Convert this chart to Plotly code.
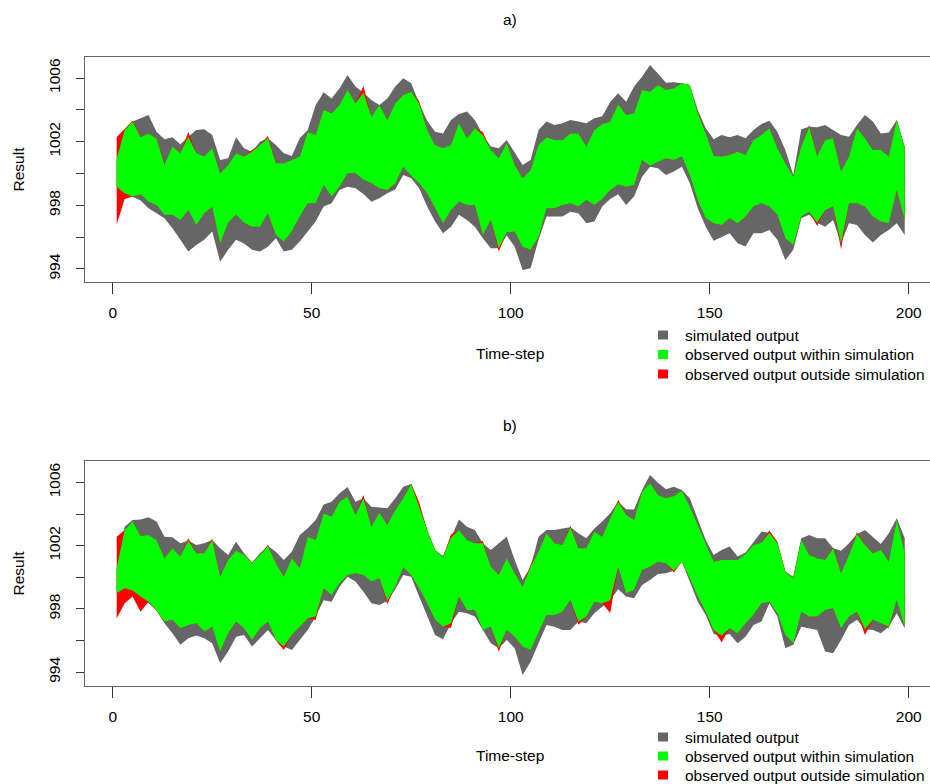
import numpy as np
import plotly.graph_objects as go

# ---------------- data (time steps 1..199, every 2nd step) ----------------
t = list(range(1, 200, 2))

# panel a)
sim_hi_a = [1000.9, 1002.73, 1003.26, 1003.47, 1003.68, 1002.63, 1002.15, 1002.27, 1001.83, 1002.31,
            1002.73, 1002.78, 1002.42, 1000.85, 1000.95, 1002.27, 1001.58, 1001.37, 1002.0, 1002.21,
            1001.79, 1001.27, 1001.1, 1002.21, 1002.73, 1004.3, 1005.1, 1004.72, 1005.35, 1006.19,
            1005.46, 1005.08, 1004.62, 1004.3, 1004.72, 1005.46, 1005.98, 1005.67, 1004.41, 1003.32,
            1002.63, 1002.52, 1003.36, 1003.74, 1003.89, 1003.36, 1002.42, 1001.69, 1001.58, 1002.1,
            1001.27, 1000.53, 1000.85, 1002.73, 1003.26, 1003.05, 1003.15, 1003.36, 1003.26, 1003.15,
            1003.47, 1003.6, 1004.5, 1005.04, 1004.51, 1005.46, 1006.08, 1006.82, 1006.29, 1005.71,
            1005.73, 1005.67, 1005.56, 1003.99, 1002.84, 1002.15, 1002.42, 1002.27, 1002.42, 1002.21,
            1002.73, 1003.11, 1003.32, 1002.63, 1001.48, 999.91, 1002.78, 1002.94, 1002.9, 1003.05,
            1002.73, 1002.42, 1002.31, 1003.05, 1003.68, 1003.26, 1002.52, 1002.57, 1003.36, 1001.69]
sim_lo_a = [999.17, 998.76, 998.55, 998.3, 997.81, 997.5, 997.19, 996.56, 995.83, 995.1,
            995.5, 995.83, 996.35, 994.46, 995.2, 995.83, 995.6, 995.2, 995.1, 995.4,
            995.93, 995.1, 995.2, 995.72, 996.35, 996.98, 997.92, 998.13, 998.97, 999.17,
            999.07, 998.71, 998.23, 998.44, 998.76, 999.0, 999.9, 999.7, 999.07, 997.92,
            996.98, 996.24, 996.66, 997.4, 997.08, 996.66, 995.93, 995.3, 995.3, 996.1,
            995.4, 993.94, 994.04, 995.83, 997.29, 997.29, 997.29, 997.6, 997.5, 996.87,
            996.98, 997.92, 998.4, 998.7, 998.02, 998.55, 999.8, 1000.43, 1000.33, 999.91,
            1000.12, 1000.43, 999.38, 997.81, 996.66, 995.78, 996.03, 996.24, 995.62, 995.41,
            996.24, 996.24, 996.45, 995.83, 994.57, 995.2, 997.19, 997.4, 996.9, 996.66,
            997.08, 995.62, 996.87, 996.77, 996.14, 995.66, 996.14, 996.45, 996.87, 996.14]
obs_hi_a = [1002.3, 1002.8, 1003.32, 1002.27, 1002.52, 1002.2, 1000.53, 1001.69, 1001.27, 1002.6,
            1001.27, 1001.06, 1001.58, 1000.0, 1000.53, 1001.27, 1001.06, 1001.48, 1001.79, 1002.35,
            1000.64, 1000.64, 1000.85, 1001.06, 1002.6, 1002.42, 1003.99, 1003.78, 1004.3, 1005.25,
            1004.41, 1005.5, 1003.57, 1004.3, 1003.36, 1004.41, 1004.93, 1005.14, 1004.55, 1002.73,
            1001.79, 1001.58, 1001.79, 1003.15, 1002.21, 1002.84, 1002.6, 1001.48, 1000.95, 1001.9,
            1000.53, 999.7, 1000.22, 1001.79, 1002.27, 1002.1, 1002.1, 1002.52, 1002.52, 1001.69,
            1002.73, 1003.1, 1003.26, 1004.35, 1003.68, 1003.78, 1005.25, 1005.14, 1005.56, 1005.25,
            1005.35, 1005.67, 1005.56, 1003.78, 1002.52, 1001.1, 1001.06, 1001.16, 1001.37, 1001.16,
            1002.1, 1002.42, 1002.84, 1001.58, 1000.64, 999.8, 1001.69, 1003.05, 1001.06, 1002.1,
            1002.21, 1000.12, 1001.06, 1002.84, 1002.21, 1001.48, 1001.48, 1001.06, 1003.36, 1001.58]
obs_lo_a = [996.8, 998.4, 998.55, 998.7, 998.23, 998.02, 997.4, 997.4, 997.08, 997.7,
            996.77, 997.5, 997.9, 995.6, 996.9, 997.4, 996.9, 996.66, 996.66, 997.5,
            996.14, 995.72, 996.35, 997.29, 998.13, 998.13, 999.28, 998.55, 999.17, 1000.01,
            1000.01, 999.6, 999.38, 999.07, 998.97, 999.38, 1000.43, 999.85, 999.38, 998.76,
            997.81, 996.87, 997.71, 998.23, 998.02, 998.02, 996.14, 997.08, 995.1, 996.3,
            996.35, 995.4, 995.2, 996.03, 997.81, 997.81, 998.02, 998.13, 997.92, 998.34,
            998.02, 998.4, 998.97, 999.3, 999.17, 999.28, 1000.85, 1000.5, 1000.74, 1000.95,
            1000.85, 1001.06, 999.91, 998.34, 997.19, 996.87, 996.77, 997.19, 996.87, 997.29,
            997.92, 998.13, 997.92, 997.4, 995.93, 995.51, 997.29, 997.6, 996.7, 997.71,
            997.92, 995.24, 998.13, 998.13, 997.92, 997.29, 996.98, 996.87, 998.97, 997.08]

# panel b)
sim_hi_b = [1000.57, 1003.2, 1003.62, 1003.66, 1003.79, 1003.52, 1002.57, 1002.53, 1002.15, 1002.32,
            1002.04, 1002.15, 1002.36, 1001.83, 1001.41, 1002.25, 1001.52, 1000.93, 1001.52, 1001.98,
            1001.62, 1001.09, 1001.62, 1002.67, 1003.1, 1003.62, 1004.6, 1004.78, 1005.31, 1005.7,
            1004.78, 1004.99, 1004.46, 1004.42, 1004.36, 1004.99, 1005.73, 1005.89, 1004.46, 1002.99,
            1001.73, 1001.35, 1002.5, 1003.66, 1003.2, 1002.99, 1002.15, 1001.73, 1002.15, 1002.57,
            1001.09, 999.83, 1000.67, 1002.57, 1002.99, 1002.99, 1003.09, 1003.16, 1002.78, 1002.46,
            1003.09, 1003.52, 1004.04, 1004.78, 1004.3, 1004.29, 1005.52, 1006.46, 1005.98, 1005.56,
            1005.73, 1005.52, 1004.99, 1003.73, 1002.36, 1001.41, 1001.73, 1001.94, 1001.31, 1001.56,
            1002.25, 1002.88, 1002.82, 1002.15, 1000.36, 1000.04, 1002.46, 1002.67, 1002.46, 1002.46,
            1001.83, 1001.68, 1002.15, 1002.73, 1002.99, 1002.57, 1002.11, 1002.78, 1003.73, 1002.46]
sim_lo_b = [998.99, 999.31, 999.16, 998.78, 998.36, 997.9, 997.1, 996.46, 995.73, 996.15,
            996.32, 996.15, 995.83, 994.57, 995.31, 996.25, 996.36, 995.62, 996.15, 996.67,
            996.04, 995.62, 995.41, 996.04, 996.67, 997.52, 998.55, 998.46, 999.41, 1000.04,
            999.73, 999.09, 998.36, 998.25, 998.5, 999.24, 1000.15, 1000.04, 998.78, 997.52,
            996.36, 996.08, 997.1, 997.83, 997.73, 997.52, 996.67, 995.83, 995.52, 996.04,
            995.52, 993.83, 994.67, 995.83, 996.99, 996.88, 996.67, 996.67, 997.2, 997.1,
            997.73, 998.15, 998.55, 999.24, 998.78, 998.67, 999.52, 999.83, 1000.21, 1000.25,
            1000.42, 1000.99, 999.73, 998.46, 997.62, 996.42, 996.3, 996.42, 995.83, 996.25,
            996.99, 997.2, 998.36, 997.52, 995.52, 995.73, 996.88, 996.78, 996.67, 995.31,
            995.2, 996.04, 996.99, 997.31, 996.72, 996.67, 996.46, 996.88, 997.73, 996.78]
obs_hi_b = [1002.57, 1002.99, 1003.52, 1002.61, 1002.67, 1002.36, 1001.2, 1001.83, 1001.31, 1002.46,
            1001.52, 1001.52, 1002.45, 1000.04, 1001.09, 1001.68, 1001.41, 1000.88, 1001.41, 1002.05,
            1000.88, 1000.04, 1001.2, 1000.57, 1002.57, 1002.36, 1004.04, 1003.83, 1004.78, 1005.1,
            1003.94, 1005.2, 1003.2, 1004.08, 1003.31, 1004.25, 1004.99, 1005.95, 1004.75, 1002.99,
            1001.73, 1001.26, 1002.7, 1002.99, 1002.36, 1002.15, 1002.3, 1000.67, 1000.15, 1001.2,
            1000.25, 999.41, 1000.8, 1001.62, 1002.78, 1002.15, 1002.04, 1003.25, 1001.83, 1001.83,
            1002.88, 1002.57, 1003.73, 1004.9, 1003.94, 1003.62, 1005.41, 1005.94, 1005.2, 1004.99,
            1005.14, 1005.47, 1004.46, 1003.31, 1002.15, 1000.99, 1001.09, 1001.09, 1001.09, 1001.47,
            1002.04, 1002.19, 1002.95, 1002.25, 1000.36, 999.94, 1002.36, 1001.41, 1001.2, 1001.09,
            1001.9, 1000.25, 1001.41, 1002.85, 1002.04, 1001.52, 1001.73, 1000.99, 1003.62, 1001.52]
obs_lo_b = [997.4, 998.36, 998.78, 997.83, 998.46, 997.94, 997.2, 997.31, 996.78, 996.99,
            997.1, 996.57, 996.88, 995.3, 996.46, 997.2, 996.78, 996.04, 996.78, 997.2,
            996.0, 995.4, 996.36, 996.88, 997.41, 997.3, 999.3, 998.88, 999.62, 1000.15,
            1000.25, 1000.15, 999.73, 999.94, 998.3, 999.41, 1000.63, 1000.15, 999.31, 998.36,
            997.31, 996.88, 996.8, 998.78, 997.94, 997.94, 996.67, 996.88, 995.3, 996.67,
            996.25, 995.62, 995.41, 996.46, 997.62, 997.62, 997.83, 998.57, 997.0, 997.52,
            998.46, 998.36, 997.75, 1000.67, 998.99, 999.2, 1000.46, 1000.67, 1000.99, 1000.88,
            1000.3, 1000.99, 999.94, 998.78, 997.83, 996.67, 995.9, 996.78, 996.46, 997.1,
            997.62, 998.36, 998.46, 997.73, 996.36, 995.83, 997.83, 997.52, 997.52, 997.94,
            998.04, 996.78, 997.52, 997.83, 996.35, 997.31, 997.1, 996.8, 998.57, 996.88]

x_ticks = [0, 50, 100, 150, 200]
y_ticks = [994, 996, 998, 1000, 1002, 1004, 1006]
y_ticktext = ["994", "", "998", "", "1002", "", "1006"]
panel_titles = ["a)", "b)"]
legend_names = ["simulated output", "observed output within simulation",
                "observed output outside simulation"]

GRAY = "#666666"
GREEN = "#00FF00"
RED = "#FF0000"
FONT = "Liberation Sans, Arial, sans-serif"
FS = 15.5
W, H = 930, 784

fig = go.Figure()


def add_panel(xa, ya, shi, slo, ohi, olo):
    shi = np.array(shi); slo = np.array(slo)
    ohi = np.array(ohi); olo = np.array(olo)
    xp = t + t[::-1]
    fig.add_trace(go.Scatter(x=xp, y=list(shi) + list(slo[::-1]), fill="toself",
                             fillcolor=GRAY, mode="lines", line=dict(width=0, color=GRAY),
                             xaxis=xa, yaxis=ya, hoverinfo="skip", name=legend_names[0]))
    fig.add_trace(go.Scatter(x=xp, y=list(ohi) + list(olo[::-1]), fill="toself",
                             fillcolor=RED, mode="lines", line=dict(width=0, color=RED),
                             xaxis=xa, yaxis=ya, hoverinfo="skip", name=legend_names[2]))
    ghi = np.clip(ohi, slo, shi)
    glo = np.clip(olo, slo, shi)
    fig.add_trace(go.Scatter(x=xp, y=list(ghi) + list(glo[::-1]), fill="toself",
                             fillcolor=GREEN, mode="lines", line=dict(width=0, color=GREEN),
                             xaxis=xa, yaxis=ya, hoverinfo="skip", name=legend_names[1]))


add_panel("x", "y", sim_hi_a, sim_lo_a, obs_hi_a, obs_lo_a)
add_panel("x2", "y2", sim_hi_b, sim_lo_b, obs_hi_b, obs_lo_b)

xdom = [85.2 / W, 1.0]
xrange_ = [-6.91, 205.35]

xaxis_common = dict(domain=xdom, range=xrange_, tickvals=x_ticks, ticks="outside", ticklen=11,
                    tickcolor="#333333", tickwidth=1, showline=True, linecolor="#666666",
                    linewidth=1, mirror=True, showgrid=False, zeroline=False, automargin=False,
                    tickfont=dict(family=FONT, size=FS, color="black"), ticklabelstandoff=5)
yaxis_common = dict(tickvals=y_ticks, ticktext=y_ticktext, ticks="outside", ticklen=8,
                    tickcolor="#333333", tickwidth=1, showline=True, linecolor="#666666",
                    linewidth=1, mirror=False, showgrid=False, zeroline=False, tickangle=-90,
                    automargin=False,
                    tickfont=dict(family=FONT, size=FS, color="black"), ticklabelstandoff=10)

fig.update_layout(
    width=W, height=H, margin=dict(l=0, r=0, t=0, b=0, autoexpand=False),
    paper_bgcolor="white", plot_bgcolor="white",
    font=dict(family=FONT, size=FS, color="black"),
    showlegend=False,
    xaxis=dict(xaxis_common, anchor="y"),
    yaxis=dict(yaxis_common, domain=[1 - 282 / H, 1 - 56.7 / H], range=[993.18, 1007.34], anchor="x"),
    xaxis2=dict(xaxis_common, anchor="y2"),
    yaxis2=dict(yaxis_common, domain=[1 - 686 / H, 1 - 461 / H], range=[993.13, 1007.35], anchor="x2"),
)

ann = []
shapes = []
for title, yc in zip(panel_titles, [20, 425]):
    ann.append(dict(text=title, x=510 / W, y=1 - yc / H, xref="paper", yref="paper",
                    showarrow=False, xanchor="center", yanchor="middle",
                    font=dict(family=FONT, size=FS, color="black")))
for yc in [353, 755]:
    ann.append(dict(text="Time-step", x=510 / W, y=1 - yc / H, xref="paper", yref="paper",
                    showarrow=False, xanchor="center", yanchor="middle",
                    font=dict(family=FONT, size=FS, color="black")))
for yc in [169, 573]:
    ann.append(dict(text="Result", x=17.5 / W, y=1 - yc / H, xref="paper", yref="paper",
                    showarrow=False, xanchor="center", yanchor="middle", textangle=-90,
                    font=dict(family=FONT, size=FS, color="black")))

# legends (one per panel): key squares + labels
legend_rows = [[335, 354.5, 374], [737, 756, 775]]
for rows in legend_rows:
    for name, col, yc in zip(legend_names, [GRAY, GREEN, RED], rows):
        shapes.append(dict(type="rect", xref="paper", yref="paper",
                           x0=658 / W, x1=668 / W, y0=1 - (yc + 4.5) / H, y1=1 - (yc - 4.5) / H,
                           fillcolor=col, line=dict(width=0)))
        ann.append(dict(text=name, x=683 / W, y=1 - yc / H, xref="paper", yref="paper",
                        showarrow=False, xanchor="left", yanchor="middle",
                        font=dict(family=FONT, size=FS, color="black")))

fig.update_layout(annotations=ann, shapes=shapes)

fig.write_html("out.html")
